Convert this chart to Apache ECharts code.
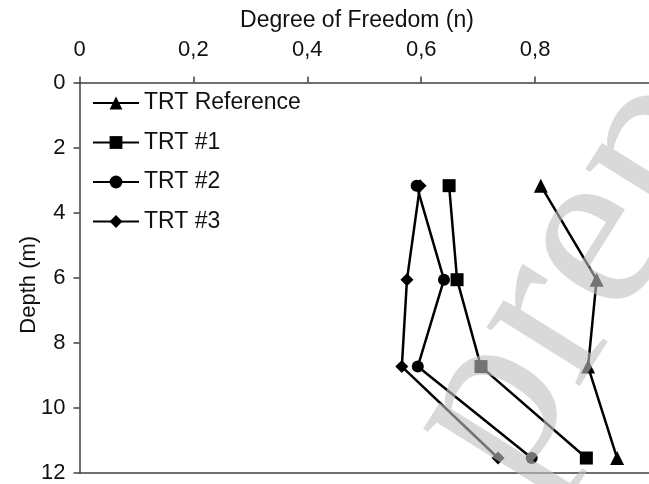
<!DOCTYPE html>
<html>
<head>
<meta charset="utf-8">
<script src="https://cdn.jsdelivr.net/npm/echarts@6/dist/echarts.min.js"></script>
<style>
  html, body { margin: 0; padding: 0; background: #fff; }
  #chart { width: 649px; height: 484px; }
</style>
</head>
<body>
<div id="chart"></div>
<script>
// Depth profile of the degree of freedom n for each thermal response test
const depths = [3.17, 6.06, 8.73, 11.54];
const trtReference = [0.81, 0.908, 0.893, 0.944];
const trt1 = [0.649, 0.663, 0.705, 0.89];
const trt2 = [0.592, 0.64, 0.594, 0.794];
const trt3 = [0.598, 0.575, 0.566, 0.735];

const seriesNames = ['TRT Reference', 'TRT #1', 'TRT #2', 'TRT #3'];
const xTickLabels = ['0', '0,2', '0,4', '0,6', '0,8', '1'];
const yTickLabels = ['0', '2', '4', '6', '8', '10', '12'];

const FONT = 'Liberation Sans, Arial, sans-serif';
const AXIS_COLOR = '#404040';

function pairs(xs) {
  return xs.map((v, i) => [v, depths[i]]);
}

function makeSeries(name, values, symbol, size) {
  return {
    name: name,
    type: 'line',
    data: pairs(values),
    symbol: symbol,
    symbolSize: size,
    showSymbol: true,
    lineStyle: { color: '#000', width: 2.5 },
    itemStyle: { color: '#000' },
    emphasis: { disabled: true },
    animation: false,
    z: 3
  };
}

const chart = echarts.init(document.getElementById('chart'), null, { renderer: 'canvas' });

chart.setOption({
  backgroundColor: '#fff',
  animation: false,
  title: {
    text: 'Degree of Freedom (n)',
    left: 352,
    top: 4,
    textAlign: 'center',
    textStyle: { fontFamily: FONT, fontSize: 23, fontWeight: 'normal', color: '#111' }
  },
  grid: { left: 79.5, top: 82.5, right: -5, bottom: 7, containLabel: false },
  legend: {
    orient: 'vertical',
    left: 87,
    top: 86,
    itemWidth: 46,
    itemHeight: 16,
    itemGap: 15.5,
    data: seriesNames,
    textStyle: { fontFamily: FONT, fontSize: 23, color: '#111', lineHeight: 24 },
    selectedMode: false
  },
  xAxis: [
    {
      type: 'value',
      position: 'top',
      min: 0,
      max: 1,
      interval: 0.2,
      axisLine: { show: true, lineStyle: { color: AXIS_COLOR, width: 1.5 } },
      axisTick: { show: true, inside: false, length: 6, lineStyle: { color: AXIS_COLOR, width: 1.5 } },
      axisLabel: {
        margin: 22,
        showMaxLabel: false,
        fontFamily: FONT,
        fontSize: 22,
        color: '#111',
        formatter: v => xTickLabels[Math.round(v / 0.2)]
      },
      splitLine: { show: false }
    },
    {
      type: 'value',
      position: 'bottom',
      min: 0,
      max: 1,
      axisLine: { show: true, lineStyle: { color: AXIS_COLOR, width: 1.5 } },
      axisTick: { show: false },
      axisLabel: { show: false },
      splitLine: { show: false }
    }
  ],
  yAxis: {
    type: 'value',
    inverse: true,
    min: 0,
    max: 12,
    interval: 2,
    name: 'Depth (m)',
    nameLocation: 'middle',
    nameGap: 40,
    nameMoveOverlap: false,
    nameTextStyle: { fontFamily: FONT, fontSize: 22, color: '#111', padding: [0, 0, 0, -14] },
    axisLine: { show: true, onZero: false, lineStyle: { color: AXIS_COLOR, width: 1.5 } },
    axisTick: { show: true, inside: false, length: 6, lineStyle: { color: AXIS_COLOR, width: 1.5 } },
    axisLabel: {
      margin: 14,
      fontFamily: FONT,
      fontSize: 22,
      color: '#111',
      formatter: v => yTickLabels[Math.round(v / 2)]
    },
    splitLine: { show: false }
  },
  series: [
    makeSeries(seriesNames[0], trtReference, 'triangle', 14),
    makeSeries(seriesNames[1], trt1, 'rect', 13),
    makeSeries(seriesNames[2], trt2, 'circle', 12),
    makeSeries(seriesNames[3], trt3, 'diamond', 13)
  ],
  graphic: [
    {
      type: 'text',
      z: 100,
      silent: true,
      x: 562,
      y: 522,
      rotation: 58 * Math.PI / 180,
      style: {
        text: 'preprint',
        font: '240px "Liberation Serif", "DejaVu Serif", serif',
        fill: 'rgba(191,191,191,0.6)',
        textVerticalAlign: 'bottom'
      }
    }
  ]
});
</script>
</body>
</html>
